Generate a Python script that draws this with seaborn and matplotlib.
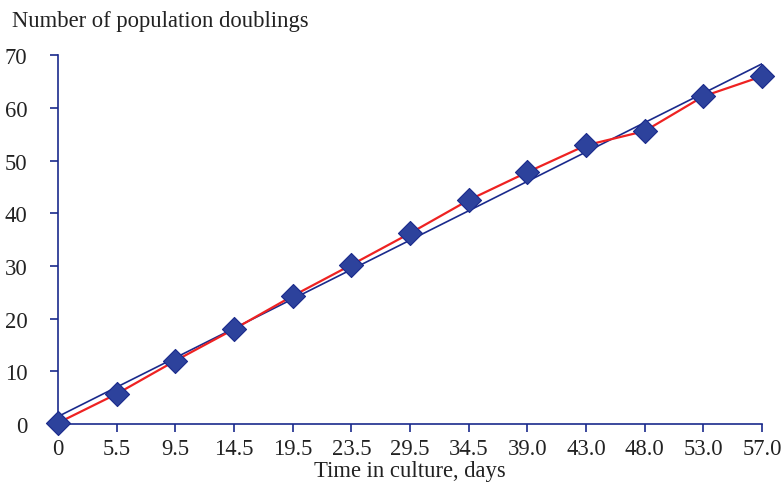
import numpy as np
import pandas as pd
import seaborn as sns
import matplotlib.pyplot as plt

sns.set_theme(style="ticks")
plt.rcParams['font.family'] = ['Liberation Serif', 'DejaVu Serif']

days = ["0", "5.5", "9.5", "14.5", "19.5", "23.5", "29.5", "34.5",
        "39.0", "43.0", "48.0", "53.0", "57.0"]
doublings = [0.2, 5.7, 12.0, 18.0, 24.3, 30.2, 36.2, 42.5, 47.8, 52.9, 55.6, 62.2, 66.0]

navy = "#1a2a8c"
df = pd.DataFrame({"idx": np.arange(len(days)), "pd": doublings})

fig = plt.figure(figsize=(7.84, 4.89), dpi=100)
ax = fig.add_axes([0.074, 0.131, 0.898, 0.754])

# linear trend over the time points (as in the original spreadsheet chart)
sns.regplot(data=df, x="idx", y="pd", scatter=False, ci=None, ax=ax,
            color=navy, line_kws={"lw": 1.2, "zorder": 2})
sns.lineplot(data=df, x="idx", y="pd", ax=ax, color="#ee2222", lw=1.6, zorder=3)
sns.scatterplot(data=df, x="idx", y="pd", ax=ax, marker="D", s=150,
                color="#2d429c", edgecolor=navy, linewidth=0.8, zorder=4, clip_on=False)

ax.set_xlim(0, 12)
ax.set_ylim(0, 70)
ax.set_xticks(df["idx"])
ax.set_xticklabels(days)
ax.set_yticks(range(0, 71, 10))
ax.set_xlabel("Time in culture, days", fontsize=16.3, color="#222222", labelpad=1)
ax.set_ylabel("")
ax.tick_params(colors=navy, labelcolor="#222222", labelsize=16.3, length=6, width=1.2)
ax.tick_params(axis="x", pad=4)
ax.tick_params(axis="y", pad=16)
sns.despine(ax=ax)
for s in ["left", "bottom"]:
    ax.spines[s].set_color(navy)
    ax.spines[s].set_linewidth(1.2)

fig.text(0.015, 0.978, "Number of population doublings", fontsize=16.3,
         color="#222222", va="top", ha="left")

plt.savefig("out.png", dpi=100)
